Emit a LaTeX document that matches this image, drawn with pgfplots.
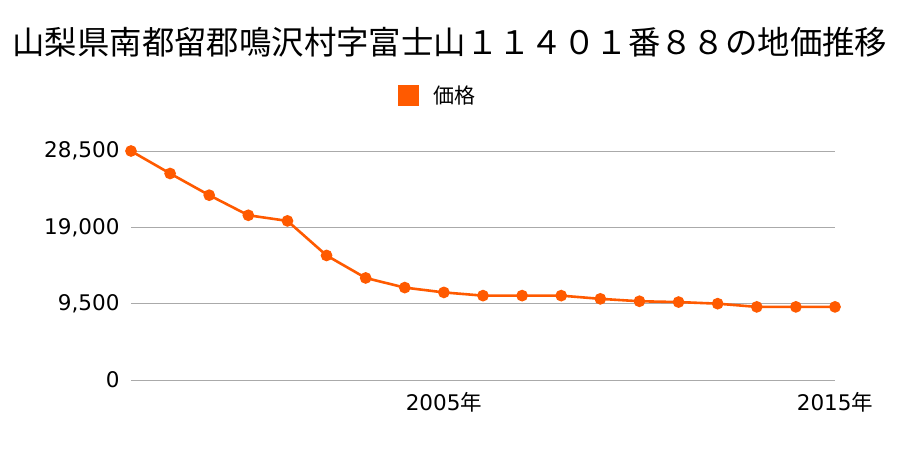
\documentclass[border=0pt]{standalone}
\usepackage{pgfplots}
\pgfplotsset{compat=1.18}
\usepackage{fontspec}
\setmainfont{Noto Sans CJK JP}
\newfontfamily\cjk{Noto Sans CJK JP}
\newfontfamily\numfont{DejaVu Sans}
\definecolor{lineor}{HTML}{FF5A00}
\definecolor{gridg}{HTML}{AAAAAA}
\begin{document}
\begin{tikzpicture}[x=1pt,y=1pt]
\useasboundingbox (-131,-70) rectangle (769,380);
\begin{axis}[
  at={(0,0)}, anchor=origin,
  scale only axis, width=704pt, height=229pt,
  xmin=1997, xmax=2015, ymin=0, ymax=28500,
  axis line style={draw=none},
  scaled y ticks=false,
  ymajorgrids, grid style={gridg, line width=0.8pt},
  ytick={0,9500,19000,28500},
  yticklabels={0,{9,500},{19,000},{28,500}},
  xtick={2005,2015},
  xticklabels={2005{\cjk 年},2015{\cjk 年}},
  tick style={draw=none},
  ticklabel style={font=\fontsize{21.5}{24}\selectfont\numfont, text=black},
  yticklabel style={xshift=-8pt},
  xticklabel style={yshift=-9pt},
  /pgf/number format/assume math mode=true,
  clip=false,
]
\addplot[lineor, line width=2.6pt, mark=*, mark size=4.5pt, mark options={fill=lineor, draw=none}] coordinates {
(1997,28500) (1998,25700) (1999,23000) (2000,20500) (2001,19800)
(2002,15500) (2003,12700) (2004,11500) (2005,10900) (2006,10500)
(2007,10500) (2008,10500) (2009,10100) (2010,9800) (2011,9700)
(2012,9500) (2013,9100) (2014,9100) (2015,9100)
};
\end{axis}
\node[font=\fontsize{32.4}{36}\selectfont, anchor=center] at (319,338) {山梨県南都留郡鳴沢村字富士山１１４０１番８８の地価推移};
\fill[lineor] (267,274) rectangle (288,295);
\node[font=\fontsize{21}{24}\selectfont, anchor=west] at (299,284.5) {価格};
\end{tikzpicture}
\end{document}
